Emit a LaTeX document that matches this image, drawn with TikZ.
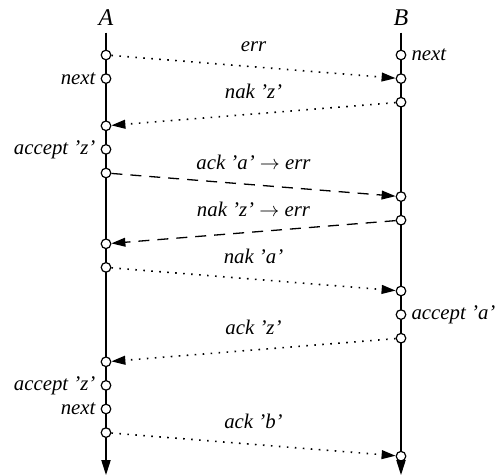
\documentclass[tikz,border=0pt]{standalone}
\usepackage{fontspec}
\setmainfont{Liberation Serif}
\usetikzlibrary{arrows.meta}

\tikzset{
  state/.style={circle, draw, fill=white, line width=0.6pt, inner sep=0pt,
    minimum size=4.8pt},
  header/.style={font=\large\itshape, inner sep=3.6pt},
  tag/.style={font=\fontsize{10.4}{12}\selectfont\itshape, inner sep=2.4pt},
  lifeline/.style={line width=0.65pt, -{Triangle[length=7.5pt,width=4.6pt]}},
  msg/.style={line width=0.65pt, -{Triangle[length=7pt,width=4.4pt]}},
  dotmsg/.style={msg, line width=0.8pt, dash pattern=on 0.8pt off 3.2pt},
  dashmsg/.style={msg, dash pattern=on 5.5pt off 4pt},
  msglabel/.style={tag, anchor=base, yshift=7.8pt},
}

\begin{document}
\begin{tikzpicture}[x=0.5pt, y=-11.8pt]
  \useasboundingbox (0,-2.3305) rectangle (495,17.839);

  % the two parties
  \node[header, anchor=base] (A) at (106,-1.27) {A};
  \node[header, anchor=base] (B) at (401,-1.27) {B};
  \coordinate (Aend) at (106,17.8);
  \coordinate (Bend) at (401,17.8);
  \draw[lifeline] (A) -- (Aend);
  \draw[lifeline] (B) -- (Bend);

  % events of A (one row per step)
  \node[state]                               (a0)  at (106,0)  {};
  \node[state, label={[tag]left:next}]       (a1)  at (106,1)  {};
  \node[state]                               (a3)  at (106,3)  {};
  \node[state, label={[tag]left:accept 'z'}] (a4)  at (106,4)  {};
  \node[state]                               (a5)  at (106,5)  {};
  \node[state]                               (a8)  at (106,8)  {};
  \node[state]                               (a9)  at (106,9)  {};
  \node[state]                               (a13) at (106,13) {};
  \node[state, label={[tag]left:accept 'z'}] (a14) at (106,14) {};
  \node[state, label={[tag]left:next}]       (a15) at (106,15) {};
  \node[state]                               (a16) at (106,16) {};

  % events of B
  \node[state, label={[tag]right:next}]       (b0)  at (401,0)  {};
  \node[state]                                (b1)  at (401,1)  {};
  \node[state]                                (b2)  at (401,2)  {};
  \node[state]                                (b6)  at (401,6)  {};
  \node[state]                                (b7)  at (401,7)  {};
  \node[state]                                (b10) at (401,10) {};
  \node[state, label={[tag]right:accept 'a'}] (b11) at (401,11) {};
  \node[state]                                (b12) at (401,12) {};
  \node[state]                                (b17) at (401,17) {};

  % messages
  \draw[dotmsg]  (a0)  -- node[msglabel]{err} (b1);
  \draw[dotmsg]  (b2)  -- node[msglabel]{nak 'z'} (a3);
  \draw[dashmsg] (a5)  -- node[msglabel]{ack 'a' $\rightarrow$ err} (b6);
  \draw[dashmsg] (b7)  -- node[msglabel]{nak 'z' $\rightarrow$ err} (a8);
  \draw[dotmsg]  (a9)  -- node[msglabel]{nak 'a'} (b10);
  \draw[dotmsg]  (b12) -- node[msglabel]{ack 'z'} (a13);
  \draw[dotmsg]  (a16) -- node[msglabel]{ack 'b'} (b17);
\end{tikzpicture}
\end{document}
